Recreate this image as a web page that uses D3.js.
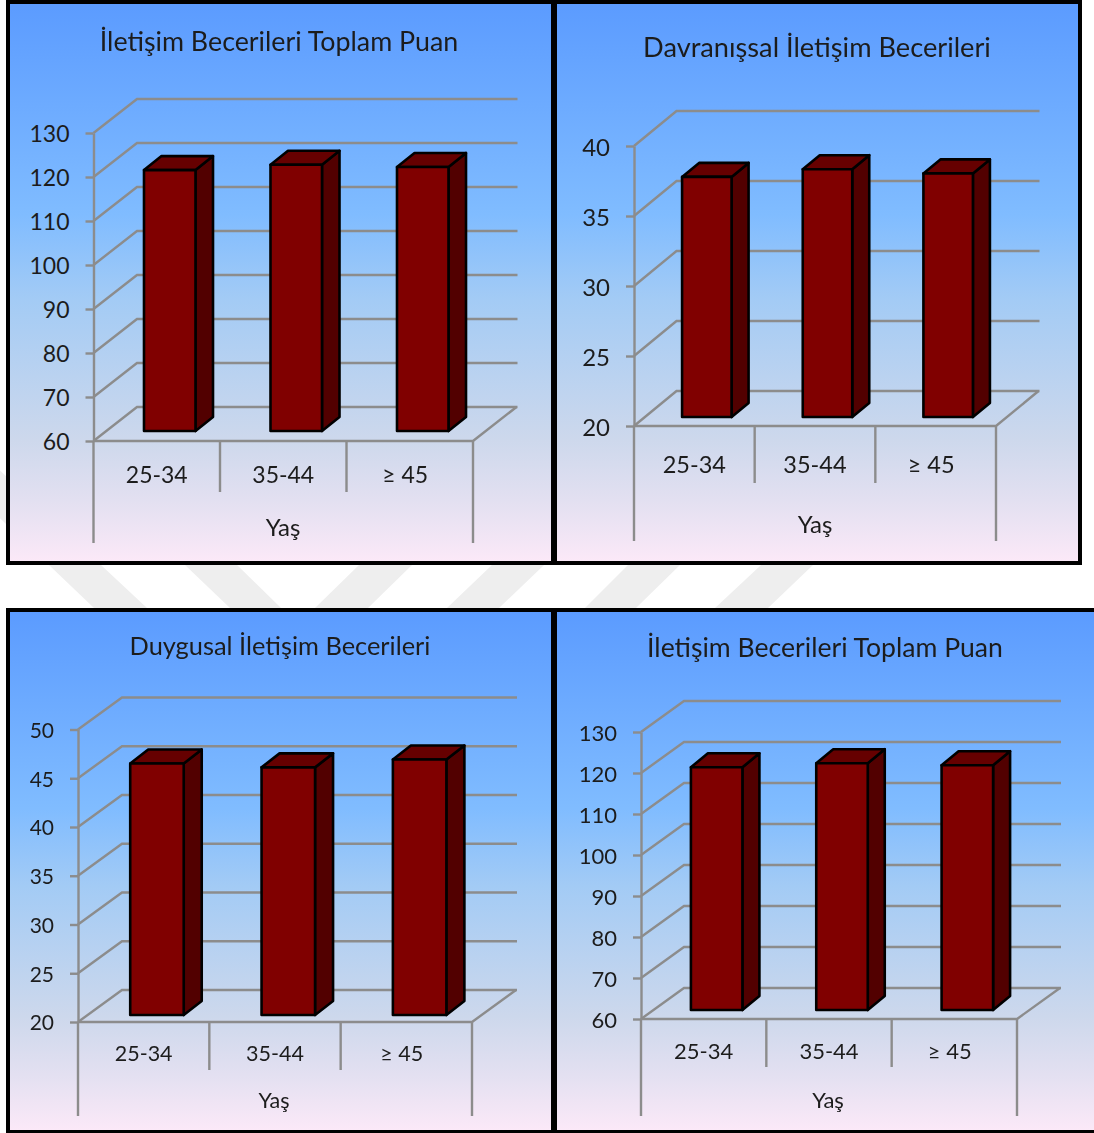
<!DOCTYPE html>
<html lang="tr">
<head>
<meta charset="utf-8">
<script src="https://cdn.jsdelivr.net/npm/d3@7/dist/d3.min.js"></script>
<style>
html,body{margin:0;padding:0;background:#fff;}
svg{display:block;filter:blur(0.45px);}
text{font-family:Lato,"Noto Sans",sans-serif;fill:#1c1c1c;}
</style>
</head>
<body>
<svg id="chart" width="1094" height="1133"></svg>
<script>
const ageGroups = ["25-34", "35-44", "≥ 45"];
const axisName = "Yaş";

const titleTotalA = "İletişim Becerileri Toplam Puan";
const titleBehaviour = "Davranışsal İletişim Becerileri";
const titleEmotion = "Duygusal İletişim Becerileri";
const titleTotalB = "İletişim Becerileri Toplam Puan";

const valuesTotalA = [119.3, 120.5, 120.0];
const valuesBehaviour = [37.15, 37.7, 37.4];
const valuesEmotion = [45.8, 45.4, 46.2];
const valuesTotalB = [119.2, 120.2, 119.7];

const ticksTotalA = [60, 70, 80, 90, 100, 110, 120, 130];
const ticksBehaviour = [20, 25, 30, 35, 40];
const ticksEmotion = [20, 25, 30, 35, 40, 45, 50];
const ticksTotalB = [60, 70, 80, 90, 100, 110, 120, 130];

// Layout of the four framed panels (pixels), separate from the data.
const panels = [
  {title: titleTotalA, values: valuesTotalA, ticks: ticksTotalA,
   frame: [8, 2, 545, 561], x0: 93.5, x1: 473, yBase: 441, yTop: 133, dx: 43.5, dy: 34,
   barShift: 13, barW: 51.5, baseLift: 10, sideDx: 17.5, sideDy: 14,
   divBottom: 492, endBottom: 543, catY: 474, nameX: 283, nameY: 526, titleX: 279, titleY: 41,
   titleSize: 26.8, tickSize: 23, catSize: 23, nameSize: 24},
  {title: titleBehaviour, values: valuesBehaviour, ticks: ticksBehaviour,
   frame: [555, 2, 525, 561], x0: 634, x1: 996, yBase: 426, yTop: 146, dx: 42.5, dy: 35,
   barShift: 12.5, barW: 49.5, baseLift: 9, sideDx: 17, sideDy: 14,
   divBottom: 483, endBottom: 541, catY: 464, nameX: 815, nameY: 523, titleX: 817, titleY: 46,
   titleSize: 27.2, tickSize: 24, catSize: 23.5, nameSize: 24},
  {title: titleEmotion, values: valuesEmotion, ticks: ticksEmotion,
   frame: [8, 610, 545, 522], x0: 78, x1: 472, yBase: 1022, yTop: 729.5, dx: 44, dy: 32,
   barShift: 13.3, barW: 53.5, baseLift: 7, sideDx: 18, sideDy: 14,
   divBottom: 1070, endBottom: 1116, catY: 1053, nameX: 274, nameY: 1100, titleX: 280, titleY: 645,
   titleSize: 25.4, tickSize: 21, catSize: 21.5, nameSize: 21.5},
  {title: titleTotalB, values: valuesTotalB, ticks: ticksTotalB,
   frame: [555, 610, 545, 522], x0: 641, x1: 1017, yBase: 1019, yTop: 732, dx: 43, dy: 31,
   barShift: 13, barW: 51.5, baseLift: 9, sideDx: 17, sideDy: 14,
   divBottom: 1067, endBottom: 1116, catY: 1050, nameX: 828, nameY: 1099, titleX: 825, titleY: 647,
   titleSize: 26.6, tickSize: 22, catSize: 22, nameSize: 22}
];
// The last category label sits a little left of its band's centre.
const lastLabelNudge = -4.5;

// Faint watermark bands behind the panels: [x at y=565 left, right, x at y=608 left, right]
const watermarkBands = [
  [49, 101, 94, 147], [185, 237, 230, 281], [359, 412, 315, 368],
  [492, 544, 447, 499], [628, 680, 585, 636], [761, 813, 715, 768]
];

const svg = d3.select("#chart");
const defs = svg.append("defs");
const grad = defs.append("linearGradient").attr("id", "panelFill")
  .attr("x1", 0).attr("y1", 0).attr("x2", 0).attr("y2", 1);
[["0%", "#5b9bff"], ["38%", "#80bcff"], ["53%", "#a3cbf5"], ["78%", "#cdd8ec"], ["89%", "#e3e0f1"], ["100%", "#fce9f8"]]
  .forEach(([o, c]) => grad.append("stop").attr("offset", o).attr("stop-color", c));

// Watermark
svg.append("g").selectAll("polygon").data(watermarkBands).join("polygon")
  .attr("fill", "#eeeeee")
  .attr("points", d => {
    const lx = d3.scaleLinear().domain([565, 608]).range([d[0], d[2]]);
    const rx = d3.scaleLinear().domain([565, 608]).range([d[1], d[3]]);
    return [[lx(460), 460], [rx(460), 460], [rx(625), 625], [lx(625), 625]].join(" ");
  });

const gridColor = "#8c8c8c";

panels.forEach(p => {
  const g = svg.append("g");
  const [fx, fy, fw, fh] = p.frame;
  g.append("rect").attr("x", fx).attr("y", fy).attr("width", fw).attr("height", fh)
    .attr("fill", "url(#panelFill)").attr("stroke", "#000").attr("stroke-width", 4);

  const y = d3.scaleLinear().domain(d3.extent(p.ticks)).range([p.yBase, p.yTop]);
  const x = d3.scaleBand().domain(ageGroups).range([p.x0, p.x1]);

  // Back wall gridlines with their diagonal returns
  const wall = g.append("g").attr("fill", "none").attr("stroke", gridColor).attr("stroke-width", 2.4);
  wall.selectAll("polyline").data(p.ticks).join("polyline")
    .attr("points", t => [[p.x0, y(t)], [p.x0 + p.dx, y(t) - p.dy], [p.x1 + p.dx + 1, y(t) - p.dy]].join(" "));
  // Floor's front and right edges
  wall.append("polyline").attr("points",
    [[p.x0, p.yBase], [p.x1, p.yBase], [p.x1 + p.dx, p.yBase - p.dy]].join(" "));
  // Category dividers below the floor
  wall.selectAll("line.div").data(ageGroups.slice(1)).join("line").attr("class", "div")
    .attr("x1", c => x(c)).attr("x2", c => x(c)).attr("y1", p.yBase).attr("y2", p.divBottom);
  wall.append("line").attr("x1", p.x1).attr("x2", p.x1).attr("y1", p.yBase).attr("y2", p.endBottom);
  wall.append("line").attr("x1", p.x0).attr("x2", p.x0).attr("y1", p.yBase).attr("y2", p.endBottom);

  // Y axis
  const axis = d3.axisLeft(y).tickValues(p.ticks).tickSize(8).tickPadding(16).tickSizeOuter(0);
  const ag = g.append("g").attr("transform", `translate(${p.x0},0)`).call(axis);
  ag.select(".domain").attr("stroke", gridColor).attr("stroke-width", 2.4);
  ag.selectAll(".tick line").attr("stroke", gridColor).attr("stroke-width", 2.4);
  ag.selectAll(".tick text").attr("font-size", p.tickSize).attr("font-family", "Lato")
    .attr("fill", "#1c1c1c").attr("dy", "0.38em");

  // 3D bars
  const bars = g.append("g").attr("stroke", "#000").attr("stroke-width", 2.6).attr("stroke-linejoin", "round");
  const cell = bars.selectAll("g").data(ageGroups.map((c, i) => ({c, v: p.values[i]}))).join("g");
  const left = d => x(d.c) + x.bandwidth() / 2 + p.barShift - p.barW / 2;
  const topY = d => y(d.v) - p.baseLift;
  const botY = () => y(y.domain()[0]) - p.baseLift;
  cell.append("polygon").attr("fill", "#520000").attr("points", d => {
    const r = left(d) + p.barW;
    return [[r, topY(d)], [r + p.sideDx, topY(d) - p.sideDy], [r + p.sideDx, botY() - p.sideDy], [r, botY()]].join(" ");
  });
  cell.append("polygon").attr("fill", "#660000").attr("points", d => {
    const l = left(d), r = l + p.barW;
    return [[l, topY(d)], [l + p.sideDx, topY(d) - p.sideDy], [r + p.sideDx, topY(d) - p.sideDy], [r, topY(d)]].join(" ");
  });
  cell.append("rect").attr("fill", "#800000")
    .attr("x", left).attr("y", topY).attr("width", p.barW).attr("height", d => botY() - topY(d));

  // Category labels, axis name and title
  g.selectAll("text.cat").data(ageGroups).join("text").attr("class", "cat")
    .attr("x", (c, i) => x(c) + x.bandwidth() / 2 + (i === ageGroups.length - 1 ? lastLabelNudge : 0))
    .attr("y", p.catY)
    .attr("text-anchor", "middle").attr("dominant-baseline", "central")
    .attr("font-size", p.catSize).text(c => c);
  g.append("text").attr("x", p.nameX).attr("y", p.nameY)
    .attr("text-anchor", "middle").attr("dominant-baseline", "central")
    .attr("font-size", p.nameSize).text(axisName);
  g.append("text").attr("x", p.titleX).attr("y", p.titleY)
    .attr("text-anchor", "middle").attr("dominant-baseline", "central")
    .attr("font-size", p.titleSize).text(p.title);
});
</script>
</body>
</html>
